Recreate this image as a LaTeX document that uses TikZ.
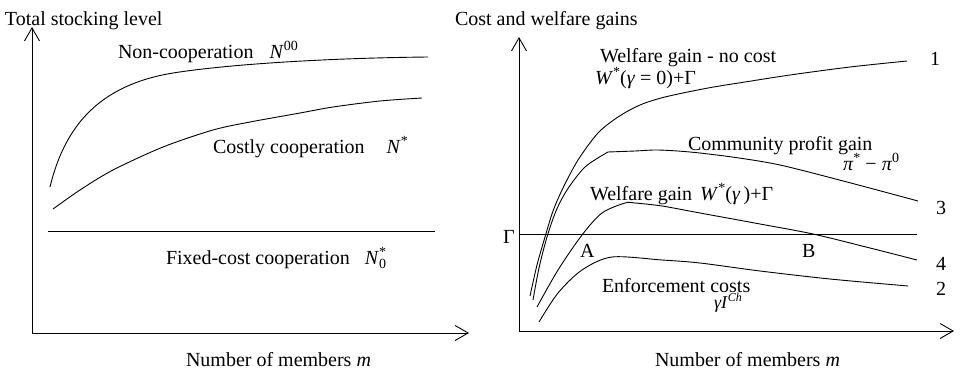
\documentclass[tikz,border=0pt]{standalone}
\usepackage{fontspec}
\setmainfont{Liberation Serif}
\usetikzlibrary{arrows.meta}
\newcommand\spx[1]{\raisebox{8pt}{\fontsize{14}{14}\selectfont #1}}
\newcommand\sbx[1]{\raisebox{-4pt}{\fontsize{14}{14}\selectfont #1}}
\begin{document}
\begin{tikzpicture}[x=1pt,y=-1pt,
  every node/.style={inner sep=0pt,outer sep=0pt,anchor=base west,font=\fontsize{20}{24}\selectfont},
  axis/.style={line width=0.9pt,-{Straight Barb[length=13pt,width=15pt,line width=0.9pt]}},
  curve/.style={line width=0.9pt,smooth,tension=0.5},
  hline/.style={line width=0.9pt}]
\useasboundingbox (0,0) rectangle (962,370);
% ---- left panel ----
\coordinate (lo) at (32,333);
\coordinate (ly) at (32,27);
\coordinate (lx) at (469,333);
\draw[axis] (lo) -- (ly);
\draw[axis] (lo) -- (lx);
\node (ltitle) at (5,25) {Total stocking level};
\coordinate (nc0) at (50,187);
\coordinate (nc1) at (173,73);
\coordinate (nc2) at (428,57);
\draw[line width=0.9pt] (nc0) .. controls (65,125) and (100,85) .. (nc1) .. controls (230,64) and (330,58) .. (nc2);
\draw[curve] plot coordinates {(53,209) (80,190) (113,170) (163,147) (213,130) (250,122) (300,113) (333,107) (380,101) (422,98)};
\coordinate (fa) at (48,231);
\coordinate (fb) at (435,231);
\draw[hline] (fa) -- (fb);
\node (lnc) at (118,58) {Non-cooperation\hspace{16pt}\textit{N}\spx{00}};
\node (lcc) at (213,153) {Costly cooperation\hspace{22pt}\textit{N}\spx{*}};
\node (lfc) at (166,264) {Fixed-cost cooperation\hspace{15pt}\textit{N}\rlap{\spx{*}}\sbx{0}};
\node (lxl) at (186,366) {Number of members \textit{m}};
% ---- right panel ----
\coordinate (ro) at (519,331);
\coordinate (ry) at (519,37);
\coordinate (rx) at (954,331);
\draw[axis] (ro) -- (ry);
\draw[axis] (ro) -- (rx);
\node (rtitle) at (455,25) {Cost and welfare gains};
\coordinate (ga) at (519,234);
\coordinate (gb) at (917,234);
\draw[hline] (ga) -- (gb);
\node (gam) at (503,243) {Γ};
% curve 1
\draw[curve] plot coordinates {(530,296) (537,265) (545,237) (553,211) (563,188) (578,160) (598,133) (618,117) (640,105) (665,97) (708,88) (745,82) (790,75) (850,67) (907,61)};
% curve 3
\draw[curve] plot coordinates {(533,300) (539,268) (547,237) (556,211) (567,190) (585,167) (608,152)};
\draw[curve] plot coordinates {(608,152) (635,151) (658,150) (690,152) (732,157) (780,165) (847,182) (918,201)};
% curve 4
\draw[curve] plot coordinates {(537,307) (558,270) (582,235) (602,213) (625,203) (635,203) (662,206) (700,213) (760,224) (813,234) (870,248) (917,260)};
% curve 2
\draw[curve] plot coordinates {(539,322) (558,293) (582,270) (612,257) (662,260) (700,263) (760,271) (830,279) (908,286)};
\node (wnc) at (600,62) {Welfare gain - no cost};
\node (wnc2) at (595,84) {\textit{W}\spx{*}(\textit{γ} = 0)+Γ};
\node (cpg) at (688,150) {Community profit gain};
\node (cpg2) at (843,170) {\textit{π}\spx{*} − \textit{π}\spx{0}};
\node (wg) at (590,200) {Welfare gain\hspace{8pt}\textit{W}\spx{*}(\textit{γ}\,)+Γ};
\node (pa) at (580,257) {A};
\node (pb) at (802,257) {B};
\node (ec) at (602,292) {Enforcement costs};
\node[font=\fontsize{18}{20}\selectfont] (ec2) at (714,308) {\textit{γI}\raisebox{7pt}{\fontsize{12}{13}\selectfont\textit{Ch}}};
\node (n1) at (930,65) {1};
\node (n3) at (936,214) {3};
\node (n4) at (936,270) {4};
\node (n2) at (936,295) {2};
\node (rxl) at (655,366) {Number of members \textit{m}};
\end{tikzpicture}
\end{document}
